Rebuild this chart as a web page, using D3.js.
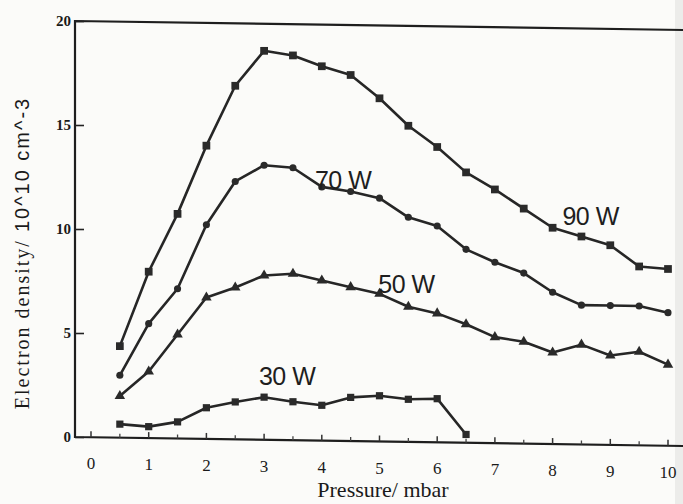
<!DOCTYPE html>
<html>
<head>
<meta charset="utf-8">
<script src="https://cdn.jsdelivr.net/npm/d3@7"></script>
<style>
  body { margin: 0; background: #fbfbf9; }
  svg { display: block; }
  .tick text { font-family: "Liberation Serif", "DejaVu Serif", serif; fill: #1a1a1a; }
  .series-label { font-family: "Liberation Sans", Arial, sans-serif; fill: #1e1e1e; font-size: 25px; }
</style>
</head>
<body>
<div class="chart"></div>
<script>
// values (electron density, 10^10 cm^-3)
const pressure = [0.5, 1, 1.5, 2, 2.5, 3, 3.5, 4, 4.5, 5, 5.5, 6, 6.5, 7, 7.5, 8, 8.5, 9, 9.5, 10]
const pressure30 = [0.5, 1, 1.5, 2, 2.5, 3, 3.5, 4, 4.5, 5, 5.5, 6, 6.5]
const density90 = [4.4, 8.0, 10.8, 14.1, 17.0, 18.7, 18.5, 18.0, 17.6, 16.5, 15.2, 14.2, 13.0, 12.2, 11.3, 10.4, 10.0, 9.6, 8.6, 8.5]
const density70 = [3.0, 5.5, 7.2, 10.3, 12.4, 13.2, 13.1, 12.2, 12.0, 11.7, 10.8, 10.4, 9.3, 8.7, 8.2, 7.3, 6.7, 6.7, 6.7, 6.4]
const density50 = [2.0, 3.2, 5.0, 6.8, 7.3, 7.9, 8.0, 7.7, 7.4, 7.1, 6.5, 6.2, 5.7, 5.1, 4.9, 4.4, 4.8, 4.3, 4.5, 3.9]
const density30 = [0.65, 0.55, 0.8, 1.5, 1.8, 2.05, 1.85, 1.7, 2.1, 2.2, 2.05, 2.1, 0.4]
const seriesNames = ["90 W", "70 W", "50 W", "30 W"]
const xTicks = [0, 1, 2, 3, 4, 5, 6, 7, 8, 9, 10]
const yTicks = [0, 5, 10, 15, 20]

const width = 683, height = 504
const frame = { left: 75, top: 21, bottom: 437, right: 700 }
const slope = 0.0148 // scan skew: right side sits lower

const x = d3.scaleLinear().domain([0, 10]).range([91, 668])
const y = d3.scaleLinear().domain([0, 20]).range([frame.bottom, frame.top])
const drop = px => slope * (px - frame.left)

const svg = d3.select(".chart").append("svg")
  .attr("width", width)
  .attr("height", height)

svg.append("rect").attr("width", width).attr("height", height).attr("fill", "#fbfbf9")
svg.append("rect").attr("x", 675).attr("width", 8).attr("height", height).attr("fill", "#ececea")

// frame (right side runs off the page)
svg.append("path")
  .attr("d", `M${frame.right},${frame.top + drop(frame.right)}L${frame.left},${frame.top}L${frame.left},${frame.bottom}L${frame.right},${frame.bottom + drop(frame.right)}`)
  .attr("fill", "none")
  .attr("stroke", "#1e1e1e")
  .attr("stroke-width", 2.2)

// x axis, ticks pointing up
const xAxis = svg.append("g")
  .attr("transform", `translate(0,${frame.bottom})`)
  .call(d3.axisBottom(x).tickValues(xTicks).tickSize(-6).tickPadding(20))
xAxis.select(".domain").remove()
xAxis.selectAll(".tick").attr("transform", d => `translate(${x(d)},${drop(x(d))})`)
xAxis.selectAll(".tick line").attr("stroke", "#333").attr("stroke-width", 1.5)
xAxis.selectAll(".tick text").style("font-size", "17px")

svg.append("g")
  .selectAll("line")
  .data(d3.range(0.5, 10, 1))
  .enter().append("line")
  .attr("x1", d => x(d)).attr("x2", d => x(d))
  .attr("y1", d => frame.bottom + drop(x(d))).attr("y2", d => frame.bottom - 4 + drop(x(d)))
  .attr("stroke", "#444").attr("stroke-width", 1.3)

// y axis, ticks pointing right
const yAxis = svg.append("g")
  .attr("transform", `translate(${frame.left},0)`)
  .call(d3.axisLeft(y).tickValues(yTicks).tickSize(-9).tickPadding(4))
yAxis.select(".domain").remove()
yAxis.selectAll(".tick line").attr("stroke", "#222").attr("stroke-width", 1.6)
yAxis.selectAll(".tick text").style("font-size", "15px").style("font-weight", "bold")

// axis titles
svg.append("text")
  .attr("x", 383).attr("y", 497)
  .attr("text-anchor", "middle")
  .style("font-family", "'Liberation Serif', serif")
  .style("font-size", "22px")
  .attr("fill", "#1a1a1a")
  .text("Pressure/ mbar")

const yTitle = svg.append("text")
  .attr("transform", "translate(29,253) rotate(-90)")
  .attr("text-anchor", "middle")
  .style("font-size", "20px")
  .style("letter-spacing", "2px")
  .attr("fill", "#1a1a1a")
yTitle.append("tspan").style("font-family", "'Liberation Serif', serif").text("Electron density/ ")
yTitle.append("tspan").style("font-family", "'Liberation Sans', sans-serif").text("10^10 cm^-3")

// series
const series = [
  { name: seriesNames[0], xs: pressure, ys: density90, symbol: d3.symbolSquare, size: 60, label: [8.17, 10.54] },
  { name: seriesNames[1], xs: pressure, ys: density70, symbol: d3.symbolCircle, size: 40, label: [3.88, 12.1] },
  { name: seriesNames[2], xs: pressure, ys: density50, symbol: d3.symbolTriangle, size: 48, label: [4.98, 7.14] },
  { name: seriesNames[3], xs: pressure30, ys: density30, symbol: d3.symbolSquare, size: 52, label: [2.91, 2.64] }
]

const px = d => x(d[0])
const py = d => y(d[1]) + drop(x(d[0]))
const line = d3.line().x(px).y(py)

series.forEach(s => {
  const pts = s.xs.map((p, i) => [p, s.ys[i]])

  svg.append("path")
    .datum(pts)
    .attr("d", line)
    .attr("fill", "none")
    .attr("stroke", "#262626")
    .attr("stroke-width", 2.6)
    .attr("stroke-linejoin", "round")

  svg.append("g").selectAll("path")
    .data(pts)
    .enter().append("path")
    .attr("transform", d => `translate(${px(d)},${py(d)})`)
    .attr("d", d3.symbol().type(s.symbol).size(s.size))
    .attr("fill", "#2a2a2a")

  svg.append("text")
    .attr("class", "series-label")
    .attr("x", px(s.label))
    .attr("y", py(s.label))
    .style("letter-spacing", "-0.5px")
    .text(s.name)
})
</script>
</body>
</html>
